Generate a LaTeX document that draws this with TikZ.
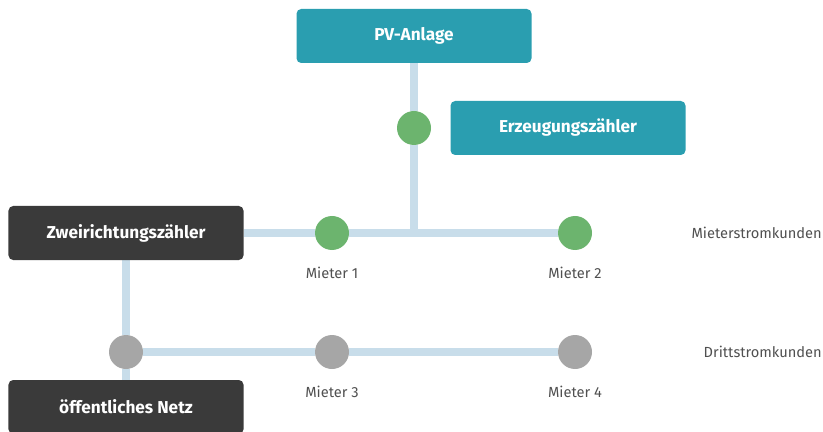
\documentclass[tikz,border=0pt]{standalone}
\usepackage{fontspec}
\setmainfont{Fira Sans}
\usetikzlibrary{positioning,backgrounds}

\definecolor{pvteal}{RGB}{42,158,176}
\definecolor{meterdark}{RGB}{58,58,58}
\definecolor{dotgreen}{RGB}{108,180,110}
\definecolor{dotgrey}{RGB}{166,166,166}
\definecolor{wireblue}{RGB}{200,221,234}
\definecolor{labelgrey}{RGB}{80,80,80}

\tikzset{
  box/.style={rectangle, rounded corners=4pt, minimum width=7.05cm, minimum height=1.62cm,
    text=white, font=\bfseries\fontsize{14.7}{17}\selectfont},
  tealbox/.style={box, fill=pvteal},
  darkbox/.style={box, fill=meterdark},
  dot/.style={circle, minimum size=1.02cm, inner sep=0pt},
  greendot/.style={dot, fill=dotgreen},
  greydot/.style={dot, fill=dotgrey},
  wire/.style={wireblue, line width=0.24cm},
  tag/.style={text=labelgrey, font=\fontsize{12.5}{15}\selectfont},
}

\begin{document}
\begin{tikzpicture}[x=0.03cm, y=-0.03cm]
  \useasboundingbox (0,0) rectangle (823,432);

  \node[tealbox] (pv) at (414,36) {PV-Anlage};
  \node[tealbox] (erz) at (568,128) {Erzeugungszähler};
  \node[darkbox] (zwei) at (126,233) {Zweirichtungszähler};
  \node[darkbox] (netz) at (126,407) {öffentliches Netz};

  \node[greendot] (gen) at (414,128) {};
  \node[greendot] (m1) at (332,233) {};
  \node[greendot] (m2) at (575,233) {};
  \node[greydot] (knot) at (126,352) {};
  \node[greydot] (m3) at (332,352) {};
  \node[greydot] (m4) at (575,352) {};
  \coordinate (join) at (414,233);

  \node[tag, below=0.38cm of m1] (l1) {Mieter 1};
  \node[tag, below=0.38cm of m2] (l2) {Mieter 2};
  \node[tag, below=0.38cm of m3] (l3) {Mieter 3};
  \node[tag, below=0.38cm of m4] (l4) {Mieter 4};
  \node[tag, anchor=east, inner sep=0pt] (mk) at (822,233) {Mieterstromkunden};
  \node[tag, anchor=east, inner sep=0pt] (dk) at (822,352) {Drittstromkunden};

  \begin{scope}[on background layer]
    \draw[wire] (pv) -- (gen) -- (join);
    \draw[wire] (zwei.east) -- (m1) -- (m2);
    \draw[wire] (zwei.south) -- (knot) -- (netz.north);
    \draw[wire] (knot) -- (m3) -- (m4);
  \end{scope}
\end{tikzpicture}
\end{document}
